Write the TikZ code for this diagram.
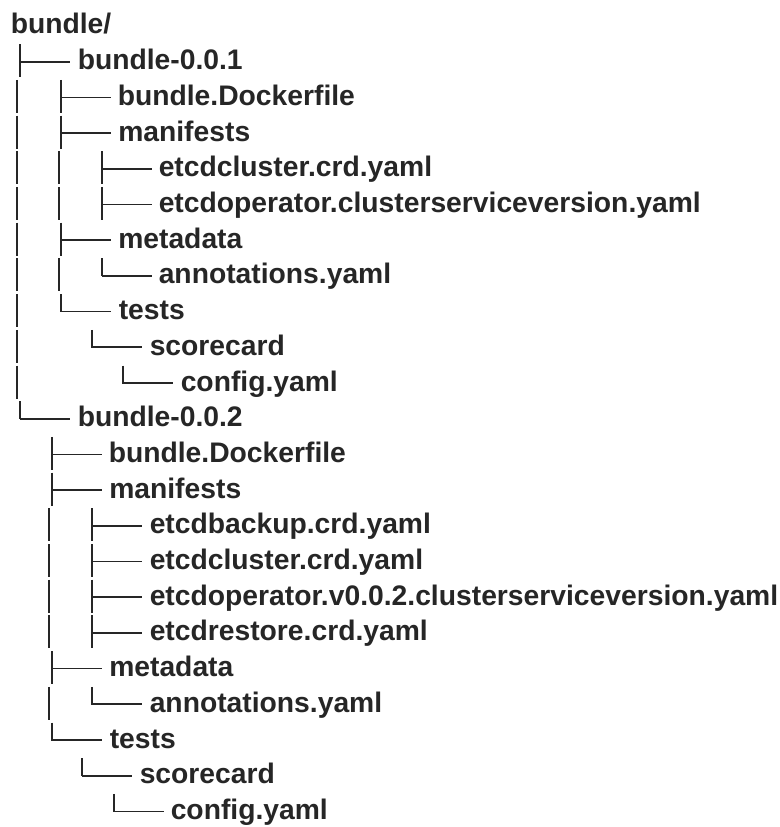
\documentclass[tikz,border=0pt]{standalone}
\usepackage{fontspec}
\setmainfont{Liberation Sans}
\usetikzlibrary{calc}
\definecolor{ink}{HTML}{262626}
\tikzset{
  item/.style={anchor=base west, inner sep=0pt, text=ink,
    font=\bfseries\fontsize{21.2pt}{24pt}\selectfont},
  vline/.style={draw=ink, line width=1.5pt},
  hline/.style={draw=ink, line width=1.3pt},
}
% #1 = x (px), #2 = row
\newcommand{\TreeBar}[2]{\draw[vline] ($(r#2)+(#1,-17.5)$) -- ($(r#2)+(#1,15.5)$);}
\newcommand{\TreeTee}[2]{\draw[vline] ($(r#2)+(#1,-17.5)$) -- ($(r#2)+(#1,15.5)$);
  \draw[hline] ($(r#2)+(#1,0)$) -- ($(r#2)+({#1+50},0)$);}
\newcommand{\TreeEnd}[2]{\draw[vline] ($(r#2)+(#1,-17.5)$) -- ($(r#2)+(#1,0.5)$);
  \draw[hline] ($(r#2)+(#1,0)$) -- ($(r#2)+({#1+50},0)$);}
\begin{document}
\begin{tikzpicture}[x=0.75pt, y=-0.75pt]
\useasboundingbox (0,0) rectangle (780,827);
\foreach \i in {1,...,23} {\coordinate (r\i) at (0,{26+(\i-1)*35.7});}
% texts
\node[item] (n1) at ($(r1)+(10.5,8)$) {bundle/};
\foreach \i/\tx/\t in {
  2/77.5/bundle-0.0.1,
  3/117.5/bundle.Dockerfile,
  4/118/manifests,
  5/158.5/etcdcluster.crd.yaml,
  6/158.5/etcdoperator.clusterserviceversion.yaml,
  7/118/metadata,
  8/158.5/annotations.yaml,
  9/118.5/tests,
  10/149.5/scorecard,
  11/180.5/config.yaml,
  12/77.5/bundle-0.0.2,
  13/108.5/bundle.Dockerfile,
  14/109/manifests,
  15/149.5/etcdbackup.crd.yaml,
  16/149.5/etcdcluster.crd.yaml,
  17/149.5/etcdoperator.v0.0.2.clusterserviceversion.yaml,
  18/149.5/etcdrestore.crd.yaml,
  19/109/metadata,
  20/149.5/annotations.yaml,
  21/109.5/tests,
  22/139.5/scorecard,
  23/170.5/config.yaml} {
  \node[item] (n\i) at ($(r\i)+(\tx,8)$) {\t};
}
% connectors of bundle-0.0.1
\TreeTee{20.3}{2}
\foreach \i in {3,...,11} {\TreeBar{17.3}{\i}}
\TreeTee{61}{3}
\TreeTee{61}{4}
\TreeBar{59.3}{5} \TreeTee{101.7}{5}
\TreeBar{59.3}{6} \TreeTee{101.7}{6}
\TreeTee{61}{7}
\TreeBar{59.3}{8} \TreeEnd{101.7}{8}
\TreeEnd{61}{9}
\TreeEnd{91.7}{10}
\TreeEnd{123.3}{11}
% connectors of bundle-0.0.2
\TreeEnd{20}{12}
\TreeTee{51.7}{13}
\TreeTee{51.7}{14}
\foreach \i in {15,...,18} {\TreeBar{49.3}{\i} \TreeTee{92.3}{\i}}
\TreeTee{51.7}{19}
\TreeBar{49.3}{20} \TreeEnd{92.3}{20}
\TreeEnd{51.7}{21}
\TreeEnd{82.3}{22}
\TreeEnd{114}{23}
\end{tikzpicture}
\end{document}
